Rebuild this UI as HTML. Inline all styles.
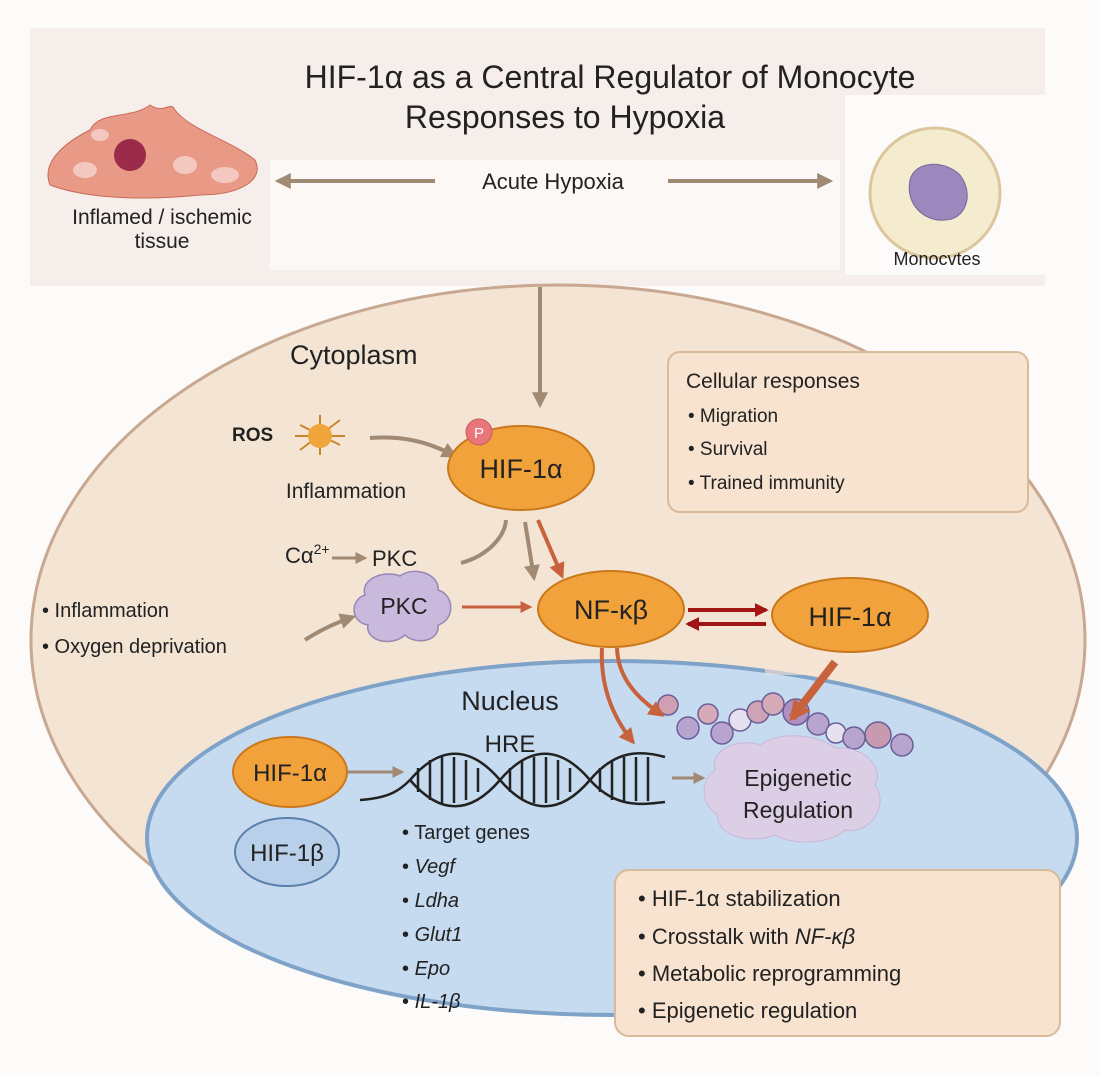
<!DOCTYPE html>
<html><head><meta charset="utf-8"><style>
html,body{margin:0;padding:0;background:#fff}
svg{display:block}
text{font-family:"Liberation Sans","DejaVu Sans",sans-serif;fill:#222}
</style></head><body>
<svg width="1100" height="1075" viewBox="0 0 1100 1075" xmlns="http://www.w3.org/2000/svg">
<defs>
<marker id="ag" viewBox="0 0 10 10" markerWidth="4" markerHeight="4" refX="8" refY="5" orient="auto" markerUnits="strokeWidth"><path d="M0,0 L10,5 L0,10 z" fill="#a08a74"/></marker>
<marker id="ar" viewBox="0 0 10 10" markerWidth="4" markerHeight="4" refX="8" refY="5" orient="auto" markerUnits="strokeWidth"><path d="M0,0 L10,5 L0,10 z" fill="#c8623c"/></marker>
<marker id="ar2" viewBox="0 0 10 10" markerWidth="2.6" markerHeight="2.6" refX="8" refY="5" orient="auto" markerUnits="strokeWidth"><path d="M0,0 L10,5 L0,10 z" fill="#c8623c"/></marker>
<marker id="ad" viewBox="0 0 10 10" markerWidth="3.5" markerHeight="3.5" refX="8" refY="5" orient="auto" markerUnits="strokeWidth"><path d="M0,0 L10,5 L0,10 z" fill="#a31515"/></marker>
</defs>
<rect width="1100" height="1075" fill="#fdfbf9"/>
<rect x="30" y="28" width="1015" height="258" fill="#f6eeea"/>
<rect x="845" y="95" width="255" height="180" fill="#fdfbfa"/>
<rect x="270" y="160" width="570" height="110" fill="#fbf8f6"/>
<!-- title -->
<text x="610" y="88" font-size="32" text-anchor="middle">HIF-1α as a Central Regulator of Monocyte</text>
<text x="565" y="128" font-size="32" text-anchor="middle">Responses to Hypoxia</text>
<!-- tissue -->
<g>
<path d="M50,185 C40,160 70,140 90,130 C100,110 130,120 150,105 C165,115 170,100 175,110 C190,130 230,140 255,160 C265,180 240,195 200,195 C150,200 90,200 50,185z" fill="#e99a86" stroke="#c96a5a"/>
<circle cx="130" cy="155" r="16" fill="#9c2a4a"/>
<ellipse cx="85" cy="170" rx="12" ry="8" fill="#f2c8c0"/><ellipse cx="185" cy="165" rx="12" ry="9" fill="#f2c8c0"/><ellipse cx="225" cy="175" rx="14" ry="8" fill="#f2c8c0"/><ellipse cx="100" cy="135" rx="9" ry="6" fill="#f2c8c0"/>
</g>
<text x="162" y="224" font-size="21" text-anchor="middle">Inflamed / ischemic</text>
<text x="162" y="248" font-size="21" text-anchor="middle">tissue</text>
<line x1="435" y1="181" x2="278" y2="181" stroke="#a08a74" stroke-width="4" marker-end="url(#ag)"/>
<line x1="668" y1="181" x2="830" y2="181" stroke="#a08a74" stroke-width="4" marker-end="url(#ag)"/>
<text x="553" y="189" font-size="22" text-anchor="middle">Acute Hypoxia</text>
<!-- monocyte -->
<circle cx="935" cy="193" r="65" fill="#f5ebcf" stroke="#dcc79c" stroke-width="3"/>
<path d="M910,180 C915,160 945,160 960,175 C975,195 965,220 945,220 C925,222 905,205 910,180z" fill="#9c88bd" stroke="#7a6699"/>
<text x="937" y="265" font-size="18" text-anchor="middle">Monocvtes</text>
<!-- cell -->
<ellipse cx="558" cy="640" rx="527" ry="355" fill="#f4e4d4" stroke="#c8a890" stroke-width="3"/>
<!-- nucleus -->
<ellipse cx="612" cy="838" rx="465" ry="177" fill="#c6daf0" stroke="#7fa3c8" stroke-width="4"/>
<!-- top arrow -->
<line x1="540" y1="287" x2="540" y2="405" stroke="#a08a74" stroke-width="4" marker-end="url(#ag)"/>
<text x="290" y="364" font-size="27">Cytoplasm</text>
<!-- cellular responses -->
<rect x="668" y="352" width="360" height="160" rx="12" fill="#f7e3cf" stroke="#d9bb9c" stroke-width="2"/>
<text x="686" y="388" font-size="21">Cellular responses</text>
<text x="688" y="422" font-size="19">• Migration</text>
<text x="688" y="455" font-size="19">• Survival</text>
<text x="688" y="489" font-size="19">• Trained immunity</text>
<!-- ROS -->
<text x="232" y="441" font-size="19" font-weight="bold">ROS</text>
<g stroke="#c8862a" stroke-width="2">
<line x1="300" y1="425" x2="340" y2="445"/><line x1="340" y1="420" x2="300" y2="450"/><line x1="320" y1="415" x2="320" y2="455"/><line x1="295" y1="436" x2="345" y2="436"/>
</g>
<circle cx="320" cy="436" r="12" fill="#f0a43c"/>
<text x="346" y="498" font-size="21" text-anchor="middle">Inflammation</text>
<path d="M370,438 C400,436 425,440 455,456" fill="none" stroke="#a08a74" stroke-width="4" marker-end="url(#ag)"/>
<!-- HIF top -->
<ellipse cx="521" cy="468" rx="73" ry="42" fill="#f2a23a" stroke="#c9791c" stroke-width="2"/>
<circle cx="479" cy="432" r="13" fill="#e8767a" stroke="#c95a5e"/>
<text x="479" y="438" font-size="15" text-anchor="middle" style="fill:#fff">P</text>
<text x="521" y="478" font-size="27" text-anchor="middle">HIF-1α</text>
<!-- Ca PKC -->
<text x="285" y="563" font-size="22">Cα<tspan font-size="14" dy="-9">2+</tspan></text>
<line x1="332" y1="558" x2="365" y2="558" stroke="#a08a74" stroke-width="3" marker-end="url(#ag)"/>
<text x="372" y="566" font-size="22">PKC</text>
<path d="M461,563 C490,555 505,535 506,520" fill="none" stroke="#a08a74" stroke-width="4"/>
<line x1="525" y1="522" x2="534" y2="578" stroke="#a08a74" stroke-width="4" marker-end="url(#ag)"/>
<line x1="538" y1="520" x2="562" y2="576" stroke="#c8623c" stroke-width="4" marker-end="url(#ar)"/>
<!-- PKC cloud -->
<path d="M365,595 C360,578 385,570 400,576 C415,565 440,575 438,590 C455,595 455,620 438,625 C440,642 415,645 405,635 C390,648 365,640 368,625 C350,622 350,600 365,595z" fill="#c8b9dd" stroke="#9886b5" stroke-width="1.5"/>
<text x="404" y="614" font-size="23" text-anchor="middle">PKC</text>
<line x1="462" y1="607" x2="530" y2="607" stroke="#c8623c" stroke-width="3" marker-end="url(#ar)"/>
<text x="42" y="617" font-size="20">•  Inflammation</text>
<text x="42" y="653" font-size="20">•  Oxygen deprivation</text>
<path d="M305,640 C320,630 335,623 353,617" fill="none" stroke="#a08a74" stroke-width="4" marker-end="url(#ag)"/>
<!-- NF-kB -->
<ellipse cx="611" cy="609" rx="73" ry="38" fill="#f2a23a" stroke="#c9791c" stroke-width="2"/>
<text x="611" y="619" font-size="27" text-anchor="middle">NF-κβ</text>
<rect x="765" y="557" width="170" height="118" fill="#f7e6d4" opacity="0.6"/>
<line x1="688" y1="610" x2="766" y2="610" stroke="#a31515" stroke-width="4" marker-end="url(#ad)"/>
<line x1="766" y1="624" x2="688" y2="624" stroke="#a31515" stroke-width="4" marker-end="url(#ad)"/>
<ellipse cx="850" cy="615" rx="78" ry="37" fill="#f2a23a" stroke="#c9791c" stroke-width="2"/>
<text x="850" y="626" font-size="27" text-anchor="middle">HIF-1α</text>
<!-- chromatin -->
<g stroke="#6a5e98" stroke-width="1.5">
<circle cx="668" cy="705" r="10" fill="#d0a0b0"/><circle cx="688" cy="728" r="11" fill="#b7a5d0"/><circle cx="708" cy="714" r="10" fill="#d7aab8"/>
<circle cx="722" cy="733" r="11" fill="#b7a5d0"/><circle cx="740" cy="720" r="11" fill="#e6e1f0"/><circle cx="758" cy="712" r="11" fill="#cfa2b5"/>
<circle cx="773" cy="704" r="11" fill="#d7aab8"/><circle cx="796" cy="712" r="13" fill="#b090c0"/><circle cx="818" cy="724" r="11" fill="#b7a5d0"/>
<circle cx="836" cy="733" r="10" fill="#e6e1f0"/><circle cx="854" cy="738" r="11" fill="#b7a5d0"/><circle cx="878" cy="735" r="13" fill="#c89ab0"/>
<circle cx="902" cy="745" r="11" fill="#b7a5d0"/>
</g>
<path d="M602,648 C600,690 615,720 633,742" fill="none" stroke="#c8623c" stroke-width="4" marker-end="url(#ar)"/>
<path d="M617,648 C618,680 640,700 662,715" fill="none" stroke="#c8623c" stroke-width="4" marker-end="url(#ar)"/>
<line x1="835" y1="662" x2="792" y2="718" stroke="#c8623c" stroke-width="8" marker-end="url(#ar2)"/>
<!-- nucleus contents -->
<text x="510" y="710" font-size="27" text-anchor="middle">Nucleus</text>
<text x="510" y="752" font-size="24" text-anchor="middle">HRE</text>
<ellipse cx="290" cy="772" rx="57" ry="35" fill="#f2a23a" stroke="#c9791c" stroke-width="2"/>
<text x="290" y="781" font-size="24" text-anchor="middle">HIF-1α</text>
<ellipse cx="287" cy="852" rx="52" ry="34" fill="#b8d0ea" stroke="#5b80aa" stroke-width="2"/>
<text x="287" y="861" font-size="24" text-anchor="middle">HIF-1β</text>
<line x1="348" y1="772" x2="402" y2="772" stroke="#a08a74" stroke-width="3" marker-end="url(#ag)"/>
<g fill="none" stroke="#222" stroke-width="2.5">
<path d="M360,800 C390,798 400,790 410,780 C440,745 470,745 500,780 C530,815 560,815 590,780 C615,750 640,750 665,757"/>
<path d="M410,780 C440,815 470,815 500,780 C530,745 560,745 590,780 C615,808 640,805 665,802"/>
<path d="M418,768v24M430,760v40M442,757v46M454,757v46M466,760v40M478,768v24 M510,768v24M522,760v40M534,757v46M546,757v46M558,760v40M570,768v24 M600,768v24M612,760v40M624,757v46M636,757v44M648,757v44"/>
</g>
<line x1="672" y1="778" x2="703" y2="778" stroke="#a08a74" stroke-width="3" marker-end="url(#ag)"/>
<path d="M715,770 C710,748 740,738 760,745 C780,730 820,735 835,748 C860,745 885,765 875,785 C890,805 870,835 845,830 C830,845 790,845 775,835 C750,845 715,835 718,815 C700,805 700,780 715,770z" fill="#dccfe5" stroke="#c8b8d8"/>
<text x="798" y="786" font-size="23" text-anchor="middle">Epigenetic</text>
<text x="798" y="818" font-size="23" text-anchor="middle">Regulation</text>
<g font-size="20">
<text x="402" y="839">• Target genes</text>
<text x="402" y="873">• <tspan font-style="italic">Vegf</tspan></text>
<text x="402" y="907">• <tspan font-style="italic">Ldha</tspan></text>
<text x="402" y="941">• <tspan font-style="italic">Glut1</tspan></text>
<text x="402" y="975">• <tspan font-style="italic">Epo</tspan></text>
<text x="402" y="1008">• <tspan font-style="italic">IL-1β</tspan></text>
</g>
<rect x="615" y="870" width="445" height="166" rx="14" fill="#f7e3cf" stroke="#d9bb9c" stroke-width="2"/>
<g font-size="22">
<text x="638" y="906">•  HIF-1α stabilization</text>
<text x="638" y="944">•  Crosstalk with <tspan font-style="italic">NF-κβ</tspan></text>
<text x="638" y="981">•  Metabolic reprogramming</text>
<text x="638" y="1018">•  Epigenetic regulation</text>
</g>
</svg>
</body></html>
